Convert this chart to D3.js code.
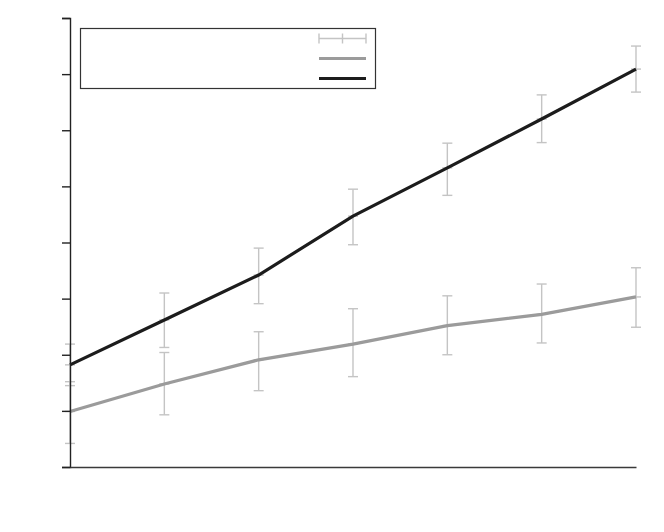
<!DOCTYPE html>
<html>
<head>
<meta charset="utf-8">
<script src="https://cdn.jsdelivr.net/npm/d3@7"></script>
<style>
  html, body { margin: 0; padding: 0; background: #fff; }
  svg { display: block; font-family: "DejaVu Sans", sans-serif; }
</style>
</head>
<body>
<svg id="chart" width="664" height="532"></svg>
<script>
// ---- data ----
const xIndex = [0, 1, 2, 3, 4, 5, 6];
const yTicks = [0, 1, 2, 3, 4, 5, 6, 7, 8];

const blackValues = [1.82, 2.62, 3.42, 4.47, 5.33, 6.20, 7.09];
const blackUpper  = [2.19, 3.10, 3.90, 4.95, 5.77, 6.63, 7.50];
const blackLower  = [1.45, 2.13, 2.91, 3.96, 4.84, 5.78, 6.68];

const grayValues  = [0.99, 1.48, 1.91, 2.19, 2.52, 2.72, 3.03];
const grayUpper   = [1.52, 2.04, 2.41, 2.82, 3.05, 3.26, 3.55];
const grayLower   = [0.42, 0.93, 1.36, 1.61, 2.00, 2.21, 2.49];

const legendLabels = ["", "", ""];

// ---- layout ----
const svg = d3.select("#chart");
const margin = { left: 70, right: 28, top: 18, bottom: 65 };
const W = 664, H = 532;

const x = d3.scaleLinear().domain([0, 6]).range([margin.left, W - margin.right]);
const y = d3.scaleLinear().domain([0, 8]).range([H - margin.bottom, margin.top]);

const errColor = "#c4c4c4";
const capW = 5;

function drawErrorBars(vals, lo, hi) {
  const g = svg.append("g").attr("stroke", errColor).attr("stroke-width", 1.4).attr("fill", "none");
  xIndex.forEach((xi, i) => {
    const cx = x(xi);
    g.append("line").attr("x1", cx).attr("x2", cx).attr("y1", y(lo[i])).attr("y2", y(hi[i]));
    g.append("line").attr("x1", cx - capW).attr("x2", cx + capW).attr("y1", y(lo[i])).attr("y2", y(lo[i]));
    g.append("line").attr("x1", cx - capW).attr("x2", cx + capW).attr("y1", y(hi[i])).attr("y2", y(hi[i]));
    g.append("line").attr("x1", cx - capW).attr("x2", cx + capW).attr("y1", y(vals[i])).attr("y2", y(vals[i]));
  });
}

drawErrorBars(grayValues, grayLower, grayUpper);
drawErrorBars(blackValues, blackLower, blackUpper);

const line = d3.line().x((d, i) => x(xIndex[i])).y(d => y(d));

svg.append("path").datum(grayValues).attr("d", line)
  .attr("fill", "none").attr("stroke", "#9b9b9b").attr("stroke-width", 3.2);
svg.append("path").datum(blackValues).attr("d", line)
  .attr("fill", "none").attr("stroke", "#1c1c1c").attr("stroke-width", 3.2);

// ---- axes ----
const yAxis = d3.axisLeft(y).tickValues(yTicks).tickFormat("").tickSize(8).tickSizeOuter(8);
const gy = svg.append("g").attr("transform", `translate(${margin.left},0)`).call(yAxis);
gy.selectAll("path, line").attr("stroke", "#222").attr("stroke-width", 1.4);

const xAxis = d3.axisBottom(x).tickValues([]).tickSizeOuter(0);
const gx = svg.append("g").attr("transform", `translate(0,${y(0)})`).call(xAxis);
gx.select("path").attr("stroke", "#3a3a3a").attr("stroke-width", 1.6);

// ---- legend ----
const lg = svg.append("g");
lg.append("rect").attr("x", 80.5).attr("y", 28.5).attr("width", 295).attr("height", 60)
  .attr("fill", "#fff").attr("stroke", "#333").attr("stroke-width", 1.2);
const lx1 = 319, lx2 = 366, lxm = (lx1 + lx2) / 2;
// error bar symbol
lg.append("line").attr("x1", lx1).attr("x2", lx2).attr("y1", 38.5).attr("y2", 38.5)
  .attr("stroke", errColor).attr("stroke-width", 1.4);
[lx1, lxm, lx2].forEach(px => {
  lg.append("line").attr("x1", px).attr("x2", px).attr("y1", 33.5).attr("y2", 43.5)
    .attr("stroke", errColor).attr("stroke-width", 1.4);
});
lg.append("line").attr("x1", lx1).attr("x2", lx2).attr("y1", 58.5).attr("y2", 58.5)
  .attr("stroke", "#9b9b9b").attr("stroke-width", 3.2);
lg.append("line").attr("x1", lx1).attr("x2", lx2).attr("y1", 78.5).attr("y2", 78.5)
  .attr("stroke", "#1c1c1c").attr("stroke-width", 3.2);
[38.5, 58.5, 78.5].forEach((ly, i) => {
  lg.append("text").attr("x", lx1 - 8).attr("y", ly + 4).attr("text-anchor", "end")
    .attr("font-size", 12).text(legendLabels[i]);
});
</script>
</body>
</html>
